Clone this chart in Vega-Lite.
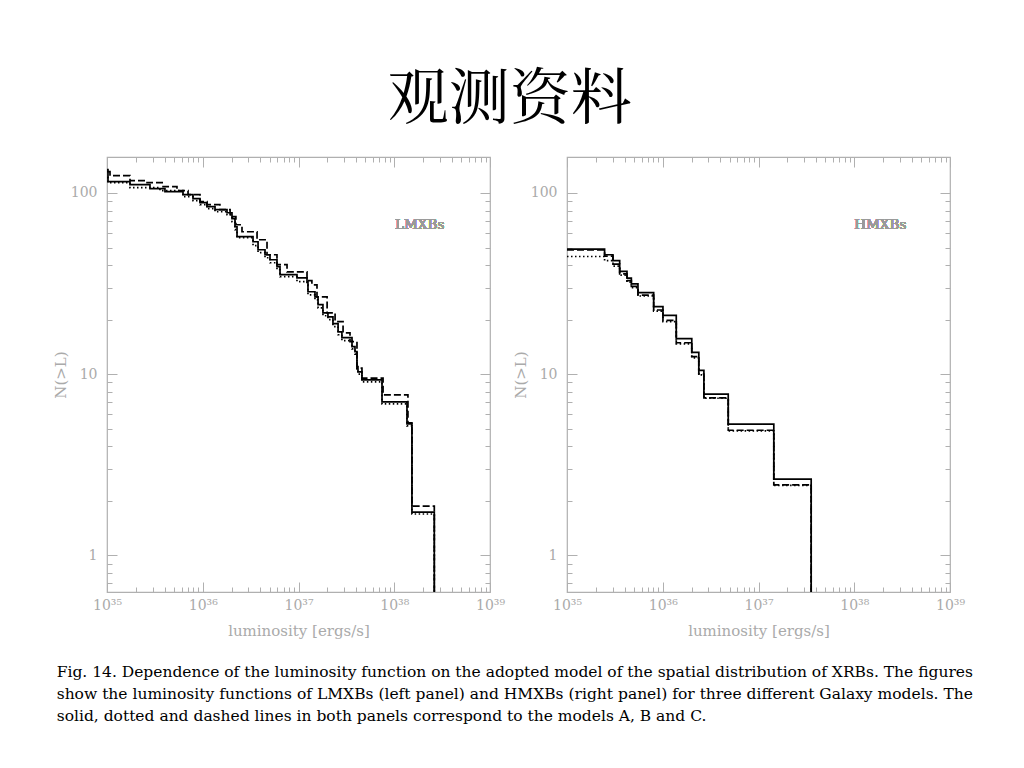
{
  "$schema": "https://vega.github.io/schema/vega-lite/v6.json",
  "background": "white",
  "padding": {"left": 52, "top": 69, "right": 5, "bottom": 5},
  "title": {"text": "观测资料", "font": "Noto Serif CJK SC, Noto Sans CJK SC", "fontSize": 61, "fontWeight": "normal", "color": "black", "anchor": "middle", "offset": 24, "dx": -3},
  "datasets": {
    "lmxb": [
      {"model":"A","L":1e35,"N":134.5},{"model":"A","L":1.024e35,"N":115.5},{"model":"A","L":1.738e35,"N":111.1},{"model":"A","L":2.81e35,"N":105.6},{"model":"A","L":4.03e35,"N":101.7},{"model":"A","L":6.22e35,"N":97.9},{"model":"A","L":7.91e35,"N":93.0},{"model":"A","L":9.36e35,"N":88.4},{"model":"A","L":1.107e36,"N":84.0},{"model":"A","L":1.343e36,"N":80.9},{"model":"A","L":1.792e36,"N":77.8},{"model":"A","L":2.02e36,"N":72.1},{"model":"A","L":2.17e36,"N":65.1},{"model":"A","L":2.28e36,"N":57.4},{"model":"A","L":3.35e36,"N":53.8},{"model":"A","L":3.78e36,"N":48.6},{"model":"A","L":4.47e36,"N":45.6},{"model":"A","L":5.04e36,"N":42.8},{"model":"A","L":5.96e36,"N":39.2},{"model":"A","L":6.41e36,"N":35.4},{"model":"A","L":9.64e36,"N":34.0},{"model":"A","L":1.227e37,"N":32.4},{"model":"A","L":1.256e37,"N":28.5},{"model":"A","L":1.486e37,"N":26.7},{"model":"A","L":1.6e37,"N":24.2},{"model":"A","L":1.8e37,"N":21.8},{"model":"A","L":2.03e37,"N":20.7},{"model":"A","L":2.29e37,"N":19.0},{"model":"A","L":2.59e37,"N":17.1},{"model":"A","L":2.84e37,"N":15.9},{"model":"A","L":3.62e37,"N":14.2},{"model":"A","L":3.89e37,"N":13.3},{"model":"A","L":4.08e37,"N":11.0},{"model":"A","L":4.18e37,"N":10.3},{"model":"A","L":4.6e37,"N":9.3},{"model":"A","L":7.45e37,"N":7.03},{"model":"A","L":1.358e38,"N":5.31},{"model":"A","L":1.53e38,"N":1.73},{"model":"A","L":2.62e38,"N":0.5},
      {"model":"B","L":1e35,"N":121.5},{"model":"B","L":1.024e35,"N":114.0},{"model":"B","L":1.738e35,"N":107.0},{"model":"B","L":3.57e35,"N":103.0},{"model":"B","L":6.22e35,"N":95.4},{"model":"B","L":7.91e35,"N":90.7},{"model":"B","L":9.36e35,"N":86.2},{"model":"B","L":1.107e36,"N":81.9},{"model":"B","L":1.343e36,"N":78.8},{"model":"B","L":1.792e36,"N":75.9},{"model":"B","L":2.02e36,"N":69.4},{"model":"B","L":2.17e36,"N":62.7},{"model":"B","L":2.28e36,"N":56.6},{"model":"B","L":3.35e36,"N":51.2},{"model":"B","L":3.78e36,"N":46.8},{"model":"B","L":4.47e36,"N":43.9},{"model":"B","L":5.04e36,"N":41.2},{"model":"B","L":5.96e36,"N":37.7},{"model":"B","L":6.41e36,"N":34.5},{"model":"B","L":9.64e36,"N":32.4},{"model":"B","L":1.227e37,"N":31.1},{"model":"B","L":1.256e37,"N":27.4},{"model":"B","L":1.486e37,"N":25.7},{"model":"B","L":1.6e37,"N":23.2},{"model":"B","L":1.8e37,"N":21.0},{"model":"B","L":2.03e37,"N":20.0},{"model":"B","L":2.29e37,"N":18.3},{"model":"B","L":2.59e37,"N":16.5},{"model":"B","L":2.84e37,"N":15.3},{"model":"B","L":3.62e37,"N":13.8},{"model":"B","L":3.89e37,"N":12.9},{"model":"B","L":4.08e37,"N":10.7},{"model":"B","L":4.18e37,"N":10.0},{"model":"B","L":4.6e37,"N":9.07},{"model":"B","L":7.45e37,"N":6.85},{"model":"B","L":1.358e38,"N":5.18},{"model":"B","L":1.53e38,"N":1.69},{"model":"B","L":2.62e38,"N":0.5},
      {"model":"C","L":1e35,"N":131.1},{"model":"C","L":1.075e35,"N":124.6},{"model":"C","L":1.738e35,"N":116.9},{"model":"C","L":2.62e35,"N":114.0},{"model":"C","L":3.85e35,"N":108.4},{"model":"C","L":5.38e35,"N":103.0},{"model":"C","L":7.02e35,"N":97.9},{"model":"C","L":9.36e35,"N":89.5},{"model":"C","L":1.107e36,"N":86.2},{"model":"C","L":1.51e36,"N":80.9},{"model":"C","L":1.93e36,"N":74.0},{"model":"C","L":2.22e36,"N":66.8},{"model":"C","L":2.57e36,"N":61.1},{"model":"C","L":3.69e36,"N":55.2},{"model":"C","L":4.69e36,"N":45.6},{"model":"C","L":5.96e36,"N":40.2},{"model":"C","L":7.59e36,"N":36.7},{"model":"C","L":1.227e37,"N":32.8},{"model":"C","L":1.38e37,"N":31.1},{"model":"C","L":1.56e37,"N":26.7},{"model":"C","L":1.99e37,"N":21.8},{"model":"C","L":2.41e37,"N":19.5},{"model":"C","L":2.92e37,"N":16.9},{"model":"C","L":3.45e37,"N":15.1},{"model":"C","L":4.08e37,"N":10.8},{"model":"C","L":4.6e37,"N":9.5},{"model":"C","L":7.64e37,"N":7.69},{"model":"C","L":1.39e38,"N":5.38},{"model":"C","L":1.53e38,"N":1.87},{"model":"C","L":2.62e38,"N":0.5}
    ],
    "hmxb": [
      {"model":"A","L":1e35,"N":49.0},{"model":"A","L":2.47e35,"N":45.6},{"model":"A","L":3.02e35,"N":42.3},{"model":"A","L":3.55e35,"N":36.9},{"model":"A","L":4.23e35,"N":33.9},{"model":"A","L":4.7e35,"N":31.5},{"model":"A","L":5.51e35,"N":28.2},{"model":"A","L":8.04e35,"N":23.6},{"model":"A","L":1.005e36,"N":21.1},{"model":"A","L":1.384e36,"N":15.7},{"model":"A","L":2.01e36,"N":13.2},{"model":"A","L":2.38e36,"N":10.5},{"model":"A","L":2.69e36,"N":7.75},{"model":"A","L":4.83e36,"N":5.3},{"model":"A","L":1.445e37,"N":2.63},{"model":"A","L":3.55e37,"N":0.5},
      {"model":"B","L":1e35,"N":44.6},{"model":"B","L":2.47e35,"N":42.3},{"model":"B","L":3.02e35,"N":39.5},{"model":"B","L":3.55e35,"N":35.2},{"model":"B","L":4.23e35,"N":32.2},{"model":"B","L":4.7e35,"N":30.0},{"model":"B","L":5.51e35,"N":27.0},{"model":"B","L":8.04e35,"N":22.3},{"model":"B","L":1.005e36,"N":19.5},{"model":"B","L":1.384e36,"N":14.7},{"model":"B","L":2.01e36,"N":12.3},{"model":"B","L":2.38e36,"N":9.9},{"model":"B","L":2.69e36,"N":7.36},{"model":"B","L":4.83e36,"N":4.86},{"model":"B","L":1.445e37,"N":2.43},{"model":"B","L":3.55e37,"N":0.5},
      {"model":"C","L":1e35,"N":48.5},{"model":"C","L":2.47e35,"N":44.8},{"model":"C","L":3.02e35,"N":40.5},{"model":"C","L":3.55e35,"N":35.8},{"model":"C","L":4.23e35,"N":32.8},{"model":"C","L":4.7e35,"N":30.5},{"model":"C","L":5.51e35,"N":27.3},{"model":"C","L":8.04e35,"N":22.6},{"model":"C","L":1.005e36,"N":19.8},{"model":"C","L":1.384e36,"N":14.9},{"model":"C","L":2.01e36,"N":12.5},{"model":"C","L":2.38e36,"N":10.0},{"model":"C","L":2.69e36,"N":7.4},{"model":"C","L":4.83e36,"N":4.9},{"model":"C","L":1.445e37,"N":2.45},{"model":"C","L":3.55e37,"N":0.5}
    ]
  },
  "vconcat": [
    {
      "title": {
        "text": [
          "Fig. 14. Dependence of the luminosity function on the adopted model of the spatial distribution of XRBs. The figures",
          "show the luminosity functions of LMXBs (left panel) and HMXBs (right panel) for three different Galaxy models. The",
          "solid, dotted and dashed lines in both panels correspond to the models A, B and C."
        ],
        "orient": "bottom", "anchor": "start", "dx": 4, "font": "DejaVu Serif", "fontSize": 15.5, "fontWeight": "normal", "color": "black", "lineHeight": 22, "offset": 26
      },
      "spacing": 6,
      "hconcat": [
        {
          "width": 383, "height": 435,
          "data": {"name": "lmxb"},
          "layer": [
            {
              "mark": {"type": "line", "interpolate": "step-after", "clip": true, "color": "black", "strokeWidth": 1.7},
              "encoding": {
                "x": {"field": "L", "type": "quantitative", "scale": {"type": "log", "domain": [1e35, 1e39], "nice": false},
                      "axis": {"orient": "bottom", "values": [1e35, 1e36, 1e37, 1e38, 1e39], "tickSize": -10, "labelPadding": 16, "labelExpr": "'10' + ['³⁵','³⁶','³⁷','³⁸','³⁹'][round(log(datum.value)/LN10) - 35]", "title": "luminosity [ergs/s]"}},
                "y": {"field": "N", "type": "quantitative", "scale": {"type": "log", "domain": [0.627, 158], "nice": false},
                      "axis": {"orient": "left", "values": [1, 10, 100], "tickSize": -10, "labelPadding": 20, "labelExpr": "format(datum.value, 'd')", "title": "N(>L)"}},
                "strokeDash": {"field": "model", "type": "nominal", "scale": {"domain": ["A", "B", "C"], "range": [[1, 0], [1.5, 2.5], [7, 3]]}, "legend": null}
              }
            },
            {
              "mark": {"type": "point", "opacity": 0, "clip": true},
              "encoding": {
                "x": {"field": "L", "type": "quantitative", "scale": {"type": "log", "domain": [1e35, 1e39], "nice": false},
                      "axis": {"orient": "bottom", "values": [2e35,3e35,4e35,5e35,6e35,7e35,8e35,9e35,2e36,3e36,4e36,5e36,6e36,7e36,8e36,9e36,2e37,3e37,4e37,5e37,6e37,7e37,8e37,9e37,2e38,3e38,4e38,5e38,6e38,7e38,8e38,9e38], "tickSize": -5, "labels": false, "title": null}},
                "y": {"field": "N", "type": "quantitative", "scale": {"type": "log", "domain": [0.627, 158], "nice": false},
                      "axis": {"orient": "left", "values": [0.7,0.8,0.9,2,3,4,5,6,7,8,9,20,30,40,50,60,70,80,90], "tickSize": -5, "labels": false, "title": null}}
              }
            },
            {
              "mark": {"type": "point", "opacity": 0, "clip": true},
              "encoding": {
                "x": {"field": "L", "type": "quantitative", "scale": {"type": "log", "domain": [1e35, 1e39], "nice": false},
                      "axis": {"orient": "top", "values": [1e35, 1e36, 1e37, 1e38, 1e39], "tickSize": -10, "labels": false, "title": null}},
                "y": {"field": "N", "type": "quantitative", "scale": {"type": "log", "domain": [0.627, 158], "nice": false},
                      "axis": {"orient": "right", "values": [1, 10, 100], "tickSize": -10, "labels": false, "title": null}}
              }
            },
            {
              "mark": {"type": "point", "opacity": 0, "clip": true},
              "encoding": {
                "x": {"field": "L", "type": "quantitative", "scale": {"type": "log", "domain": [1e35, 1e39], "nice": false},
                      "axis": {"orient": "top", "values": [2e35,3e35,4e35,5e35,6e35,7e35,8e35,9e35,2e36,3e36,4e36,5e36,6e36,7e36,8e36,9e36,2e37,3e37,4e37,5e37,6e37,7e37,8e37,9e37,2e38,3e38,4e38,5e38,6e38,7e38,8e38,9e38], "tickSize": -5, "labels": false, "title": null}},
                "y": {"field": "N", "type": "quantitative", "scale": {"type": "log", "domain": [0.627, 158], "nice": false},
                      "axis": {"orient": "right", "values": [0.7,0.8,0.9,2,3,4,5,6,7,8,9,20,30,40,50,60,70,80,90], "tickSize": -5, "labels": false, "title": null}}
              }
            },
            {
              "mark": {"type": "text", "align": "left", "baseline": "middle", "font": "DejaVu Serif", "fontSize": 13.5, "color": "#9a9a9a"},
              "encoding": {
                "x": {"datum": 1.02e38, "type": "quantitative", "scale": {"type": "log", "domain": [1e35, 1e39], "nice": false}, "axis": null},
                "y": {"datum": 66.8, "type": "quantitative", "scale": {"type": "log", "domain": [0.627, 158], "nice": false}, "axis": null},
                "text": {"value": "LMXBs"}
              }
            }
          ],
          "resolve": {"axis": {"x": "independent", "y": "independent"}}
        },
        {
          "width": 383, "height": 435,
          "data": {"name": "hmxb"},
          "layer": [
            {
              "mark": {"type": "line", "interpolate": "step-after", "clip": true, "color": "black", "strokeWidth": 1.7},
              "encoding": {
                "x": {"field": "L", "type": "quantitative", "scale": {"type": "log", "domain": [1e35, 1e39], "nice": false},
                      "axis": {"orient": "bottom", "values": [1e35, 1e36, 1e37, 1e38, 1e39], "tickSize": -10, "labelPadding": 16, "labelExpr": "'10' + ['³⁵','³⁶','³⁷','³⁸','³⁹'][round(log(datum.value)/LN10) - 35]", "title": "luminosity [ergs/s]"}},
                "y": {"field": "N", "type": "quantitative", "scale": {"type": "log", "domain": [0.627, 158], "nice": false},
                      "axis": {"orient": "left", "values": [1, 10, 100], "tickSize": -10, "labelPadding": 20, "labelExpr": "format(datum.value, 'd')", "title": "N(>L)"}},
                "strokeDash": {"field": "model", "type": "nominal", "scale": {"domain": ["A", "B", "C"], "range": [[1, 0], [1.5, 2.5], [7, 3]]}, "legend": null}
              }
            },
            {
              "mark": {"type": "point", "opacity": 0, "clip": true},
              "encoding": {
                "x": {"field": "L", "type": "quantitative", "scale": {"type": "log", "domain": [1e35, 1e39], "nice": false},
                      "axis": {"orient": "bottom", "values": [2e35,3e35,4e35,5e35,6e35,7e35,8e35,9e35,2e36,3e36,4e36,5e36,6e36,7e36,8e36,9e36,2e37,3e37,4e37,5e37,6e37,7e37,8e37,9e37,2e38,3e38,4e38,5e38,6e38,7e38,8e38,9e38], "tickSize": -5, "labels": false, "title": null}},
                "y": {"field": "N", "type": "quantitative", "scale": {"type": "log", "domain": [0.627, 158], "nice": false},
                      "axis": {"orient": "left", "values": [0.7,0.8,0.9,2,3,4,5,6,7,8,9,20,30,40,50,60,70,80,90], "tickSize": -5, "labels": false, "title": null}}
              }
            },
            {
              "mark": {"type": "point", "opacity": 0, "clip": true},
              "encoding": {
                "x": {"field": "L", "type": "quantitative", "scale": {"type": "log", "domain": [1e35, 1e39], "nice": false},
                      "axis": {"orient": "top", "values": [1e35, 1e36, 1e37, 1e38, 1e39], "tickSize": -10, "labels": false, "title": null}},
                "y": {"field": "N", "type": "quantitative", "scale": {"type": "log", "domain": [0.627, 158], "nice": false},
                      "axis": {"orient": "right", "values": [1, 10, 100], "tickSize": -10, "labels": false, "title": null}}
              }
            },
            {
              "mark": {"type": "point", "opacity": 0, "clip": true},
              "encoding": {
                "x": {"field": "L", "type": "quantitative", "scale": {"type": "log", "domain": [1e35, 1e39], "nice": false},
                      "axis": {"orient": "top", "values": [2e35,3e35,4e35,5e35,6e35,7e35,8e35,9e35,2e36,3e36,4e36,5e36,6e36,7e36,8e36,9e36,2e37,3e37,4e37,5e37,6e37,7e37,8e37,9e37,2e38,3e38,4e38,5e38,6e38,7e38,8e38,9e38], "tickSize": -5, "labels": false, "title": null}},
                "y": {"field": "N", "type": "quantitative", "scale": {"type": "log", "domain": [0.627, 158], "nice": false},
                      "axis": {"orient": "right", "values": [0.7,0.8,0.9,2,3,4,5,6,7,8,9,20,30,40,50,60,70,80,90], "tickSize": -5, "labels": false, "title": null}}
              }
            },
            {
              "mark": {"type": "text", "align": "left", "baseline": "middle", "font": "DejaVu Serif", "fontSize": 13.5, "color": "#9a9a9a"},
              "encoding": {
                "x": {"datum": 1e38, "type": "quantitative", "scale": {"type": "log", "domain": [1e35, 1e39], "nice": false}, "axis": null},
                "y": {"datum": 66.8, "type": "quantitative", "scale": {"type": "log", "domain": [0.627, 158], "nice": false}, "axis": null},
                "text": {"value": "HMXBs"}
              }
            }
          ],
          "resolve": {"axis": {"x": "independent", "y": "independent"}}
        }
      ]
    }
  ],
  "config": {
    "view": {"stroke": "#b0b0b0", "strokeWidth": 1.2},
    "axis": {
      "grid": false, "domain": false,
      "tickColor": "#b0b0b0", "tickWidth": 1,
      "labelFont": "DejaVu Serif", "labelFontSize": 14, "labelColor": "#aaaaaa",
      "labelOverlap": false, "labelFlush": false,
      "titleFont": "DejaVu Serif", "titleFontSize": 15, "titleFontWeight": "normal", "titleColor": "#aaaaaa", "titlePadding": 2
    },
    "axisX": {"titlePadding": 11}
  }
}
